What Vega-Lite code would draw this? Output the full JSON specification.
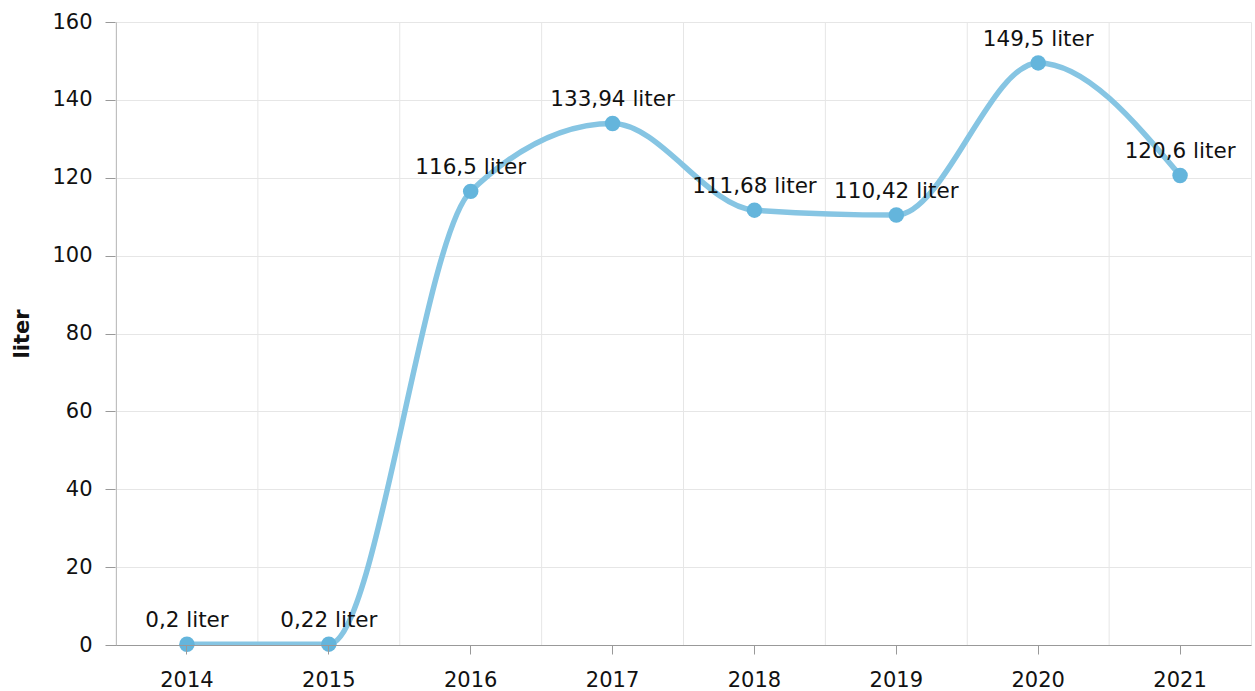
{
  "$schema": "https://vega.github.io/schema/vega-lite/v6.json",
  "autosize": "none",
  "width": 1135,
  "height": 623,
  "padding": {"left": 116, "top": 22, "right": 4, "bottom": 46},
  "background": "white",
  "config": {
    "view": {"stroke": "#e6e6e6"},
    "font": "DejaVu Sans",
    "axis": {
      "labelFont": "DejaVu Sans",
      "labelFontSize": 21,
      "labelColor": "#111",
      "titleFont": "DejaVu Sans",
      "titleFontSize": 21,
      "titleColor": "#111",
      "domainColor": "#999",
      "tickColor": "#999",
      "gridColor": "#e6e6e6"
    }
  },
  "data": {
    "values": [
      {"year": "2014", "value": 0.2, "label": "0,2 liter"},
      {"year": "2015", "value": 0.22, "label": "0,22 liter"},
      {"year": "2016", "value": 116.5, "label": "116,5 liter"},
      {"year": "2017", "value": 133.94, "label": "133,94 liter"},
      {"year": "2018", "value": 111.68, "label": "111,68 liter"},
      {"year": "2019", "value": 110.42, "label": "110,42 liter"},
      {"year": "2020", "value": 149.5, "label": "149,5 liter"},
      {"year": "2021", "value": 120.6, "label": "120,6 liter"}
    ]
  },
  "encoding": {
    "x": {
      "field": "year",
      "type": "ordinal",
      "scale": {"type": "band", "paddingInner": 0, "paddingOuter": 0},
      "axis": {
        "title": null,
        "labelAngle": 0,
        "grid": false,
        "tickSize": 9,
        "labelPadding": 15,
        "zindex": 1
      }
    }
  },
  "layer": [
    {
      "mark": {"type": "rule", "stroke": "#e6e6e6", "strokeWidth": 1},
      "encoding": {
        "x": {"field": "year", "type": "ordinal", "bandPosition": 0}
      }
    },
    {
      "mark": {
        "type": "line",
        "interpolate": "monotone",
        "stroke": "#86c5e3",
        "strokeWidth": 5.5,
        "clip": true
      },
      "encoding": {
        "y": {
          "field": "value",
          "type": "quantitative",
          "scale": {"domain": [0, 160], "nice": false},
          "axis": {
            "title": "liter",
            "titleFontWeight": "bold",
            "values": [0, 20, 40, 60, 80, 100, 120, 140, 160],
            "tickSize": 11,
            "labelPadding": 13,
            "titlePadding": 19,
            "grid": true
          }
        }
      }
    },
    {
      "mark": {"type": "point", "filled": true, "size": 240, "color": "#64b5dc", "opacity": 1},
      "encoding": {
        "y": {"field": "value", "type": "quantitative"}
      }
    },
    {
      "mark": {
        "type": "text",
        "dy": -17,
        "baseline": "alphabetic",
        "fontSize": 21.5,
        "font": "DejaVu Sans",
        "color": "#111"
      },
      "encoding": {
        "y": {"field": "value", "type": "quantitative"},
        "text": {"field": "label"}
      }
    }
  ]
}
